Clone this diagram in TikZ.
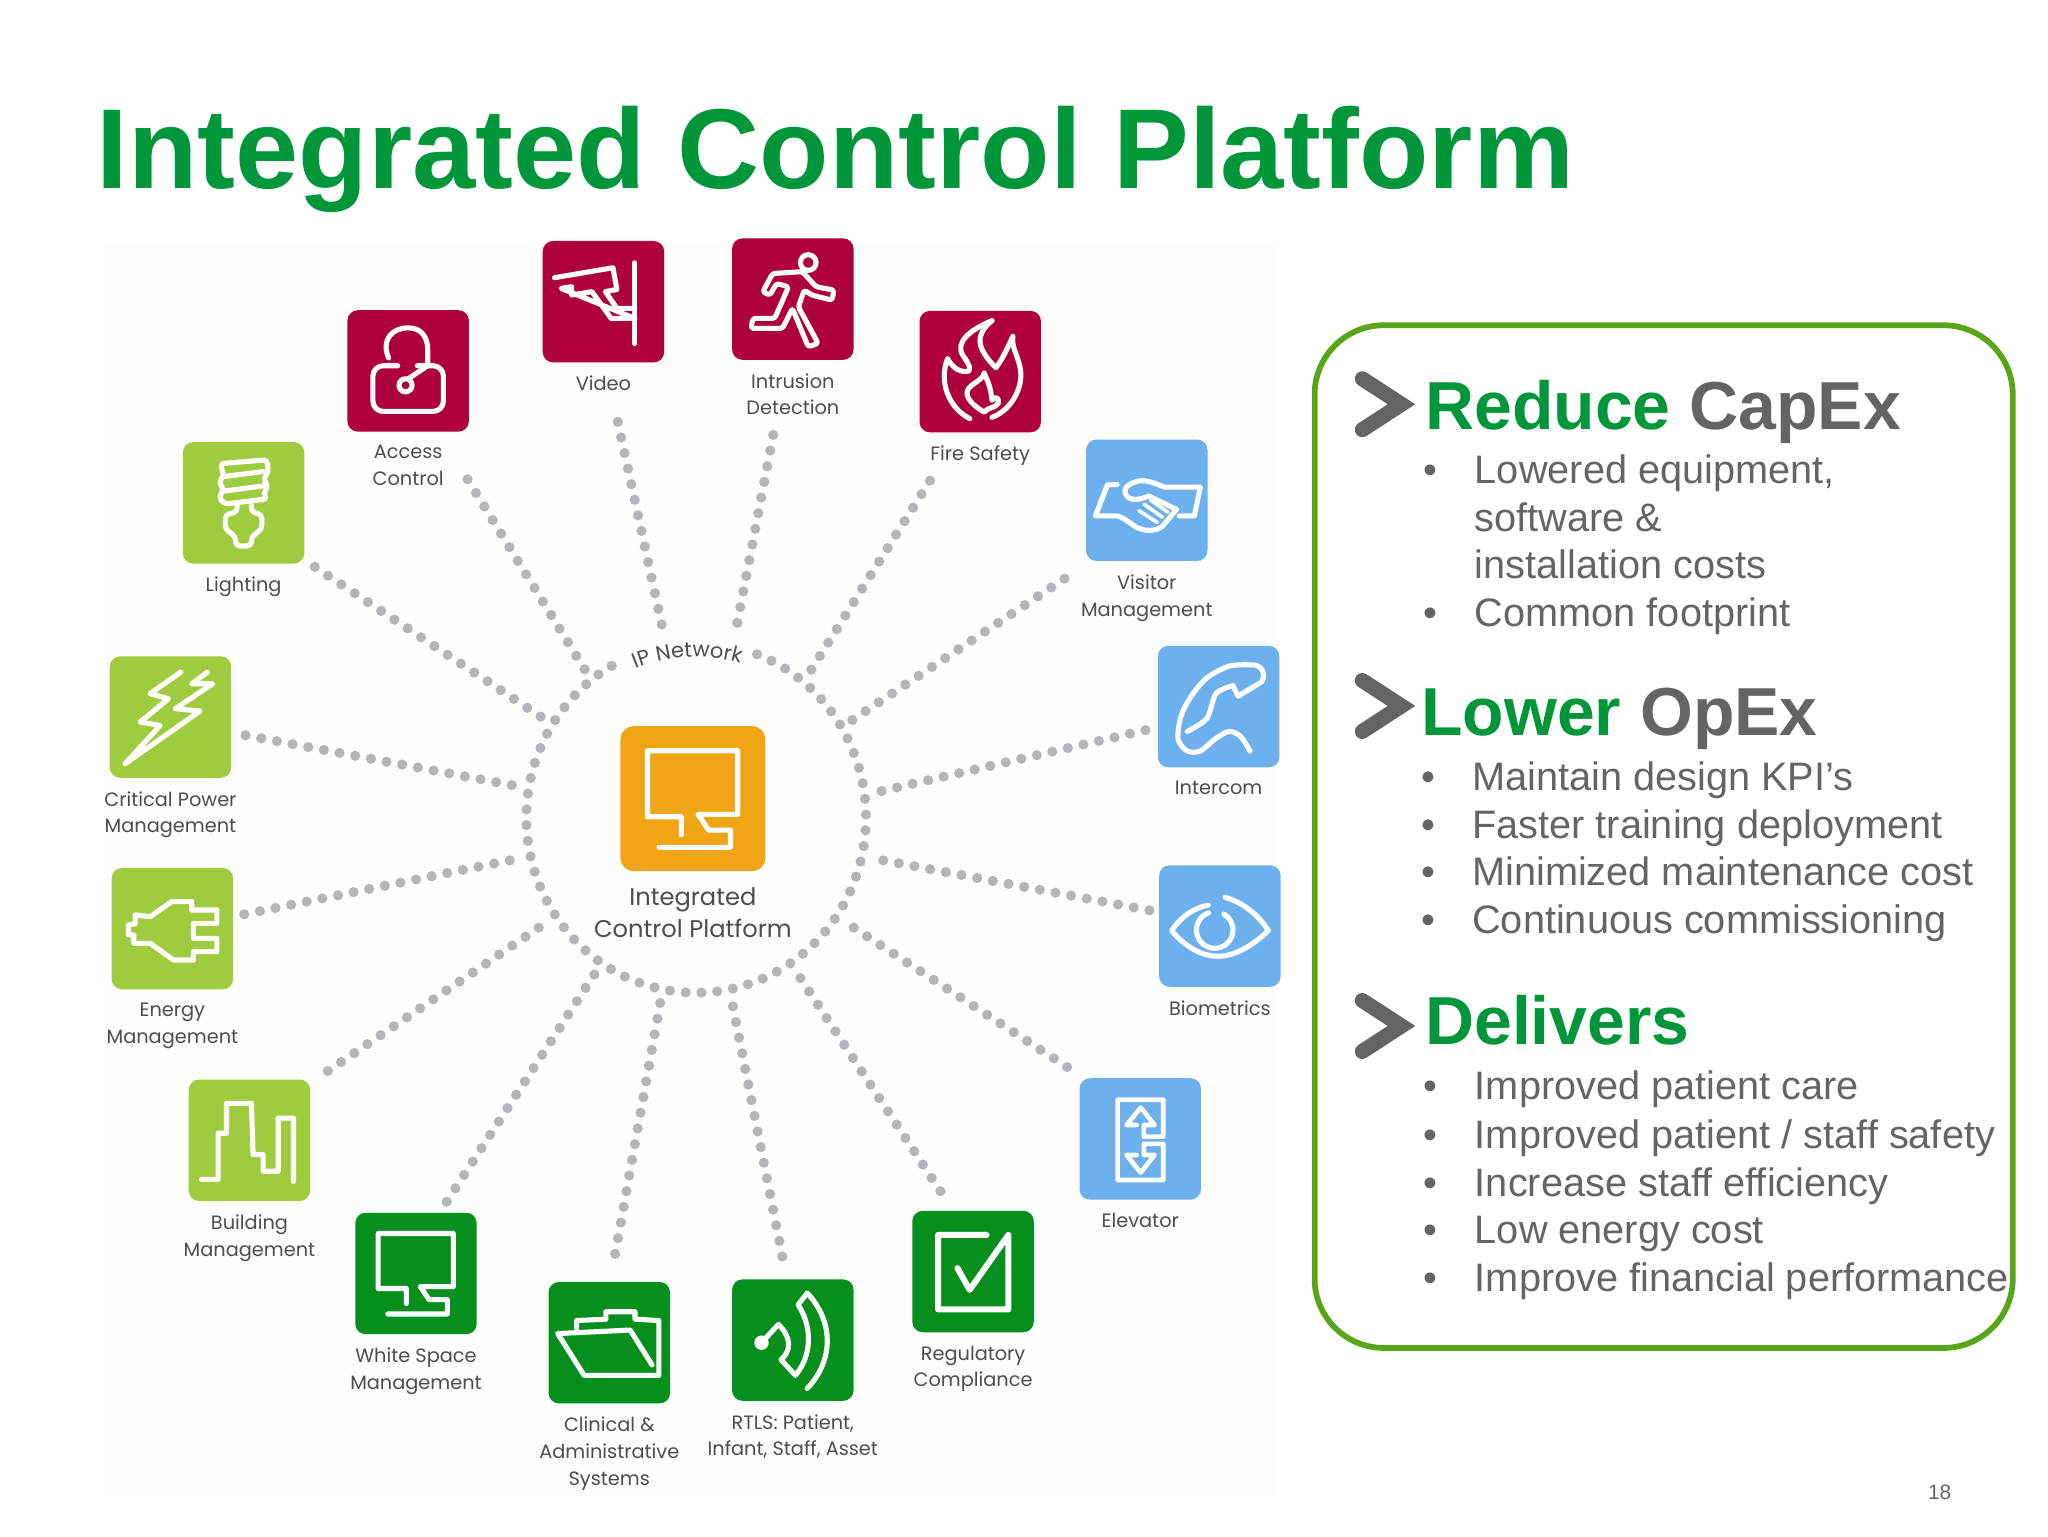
\documentclass[tikz,border=0pt]{standalone}
\usepackage{fontspec}
\setmainfont{Liberation Sans}
\newfontfamily\labelfont{Poppins}
\usetikzlibrary{positioning,shapes.geometric,decorations.text}
\definecolor{titlegreen}{HTML}{009639}
\definecolor{slategray}{HTML}{636466}
\definecolor{labelgray}{HTML}{4C4D4F}
\definecolor{dotgray}{HTML}{B4B4B9}
\definecolor{panelwhite}{HTML}{FDFDFE}
\definecolor{boxgreen}{HTML}{58A618}
\definecolor{crimson}{HTML}{AE003D}
\definecolor{lime}{HTML}{9FCB3F}
\definecolor{skyblue}{HTML}{6CB0EE}
\definecolor{forest}{HTML}{078F1E}
\definecolor{amber}{HTML}{F0A517}
\tikzset{
iconbox/.style={rectangle, rounded corners=8pt, minimum size=93pt, inner sep=0pt},
iconlabel/.style={font=\labelfont\fontsize{14.8}{20.5}\selectfont, text=labelgray, align=center, inner sep=0pt},
iconline/.style={draw=white, line width=3.9pt, line join=round, line cap=round},
spokeline/.style={draw=dotgray, line width=7.8pt, line cap=round, dash pattern=on 0pt off 12.2pt},
headline/.style={font=\bfseries\fontsize{52}{52}\selectfont, anchor=base west, inner sep=0pt},
bulletline/.style={font=\fontsize{30.4}{30.4}\selectfont, text=slategray, anchor=base west, inner sep=0pt},
chevron/.style={draw=slategray, line width=11.5pt, line cap=round, line join=miter}
}
\newcommand{\monitorpath}{(-7.4,23) -- (-7.4,11.5) -- (-29,11.5) -- (-29,-30.6) -- (28.6,-30.6) -- (28.6,10) -- (3.3,10) -- (10,20) -- (24,20) -- (24,31) -- (-21.6,31)}
\begin{document}
\begin{tikzpicture}[x=1pt, y=-1pt]
\useasboundingbox (0,0) rectangle (1568,1176);
\fill[panelwhite] (80,185) rectangle (978,1145);

\node[font=\bfseries\fontsize{87}{87}\selectfont, text=titlegreen, anchor=base west, inner sep=0pt] (title) at (74,144.5) {Integrated Control Platform};

% hub and ring
\node[ellipse, minimum width=276pt, minimum height=284pt, inner sep=0pt] (ring) at (533,626) {};
\draw[spokeline, dash pattern=on 0pt off 12.1pt] (ring.center) ++(-69:130 and 134) arc[start angle=-69, end angle=243, x radius=130, y radius=134];
\path[decorate, decoration={text along path, text align=center, text color=labelgray, text={|\labelfont\fontsize{16}{16}\selectfont|IP Network}}] (ring.center) ++(-120:123) arc[start angle=-120, end angle=-66, radius=123];

\node[iconbox, minimum size=111pt, rounded corners=10pt, fill=amber] (platform) at (530.5,611.5) {};
\node[iconlabel, font=\labelfont\fontsize{18.5}{24.5}\selectfont, below=12pt of platform] (platform-label) {Integrated\\Control Platform};

% icons with their captions
\foreach \iconname/\iconx/\icony/\iconfill/\icontext in {
video/462/231/crimson/{Video},
intrusion/607/229/crimson/{Intrusion\\Detection},
access/312.5/284/crimson/{Access\\Control},
fire/750.5/284.5/crimson/{Fire Safety},
lighting/186.5/385/lime/{Lighting},
visitor/878/383/skyblue/{Visitor\\Management},
critical/130.5/549/lime/{Critical Power\\Management},
intercom/933/541/skyblue/{Intercom},
energy/132/711/lime/{Energy\\Management},
biometrics/934/709/skyblue/{Biometrics},
building/191/873/lime/{Building\\Management},
elevator/873/872/skyblue/{Elevator},
whitespace/318.5/975/forest/{White Space\\Management},
regulatory/745/973.5/forest/{Regulatory\\Compliance},
clinical/466.5/1028/forest/{Clinical \&\\Administrative\\Systems},
rtls/607/1026/forest/{RTLS: Patient,\\Infant, Staff, Asset}}{
\node[iconbox, fill=\iconfill] (\iconname) at (\iconx,\icony) {};
\node[iconlabel, below=10pt of \iconname] (\iconname-label) {\icontext};
}

% dotted spokes into the ring
\foreach \iconname/\offx/\offy/\ringangle in {
access/45.5/83/127.3, fire/-38.5/83.5/52.6, lighting/54.5/49/147.2, visitor/-63/60/32,
critical/57.5/14/170.3, intercom/-56/18/8.4, energy/55/-11/193.9, biometrics/-54/-12/-13.3,
building/60/-53/215.3, elevator/-56/-55/-35.2, whitespace/23.5/-55/237.8, regulatory/-25/-61.5/-57.1,
clinical/4.5/-68/259.4, rtls/-8/-64/-79}{
\draw[spokeline] ([shift={(\offx,\offy)}] \iconname.center) -- (ring.\ringangle);
}
\draw[spokeline, shorten >=8pt] ([shift={(11,92)}] video.center) -- (ring.100.9);
\draw[spokeline, shorten >=8pt] ([shift={(-15,104)}] intrusion.center) -- (ring.78.4);

% icon glyphs
\draw[iconline, shift={(video.center)}] (-37.5,-18.4) -- (7.3,-26) -- (10.3,-9.4) -- (1.5,-7.7) -- (10.3,5.1) -- (24,5.1);
\draw[iconline, shift={(video.center)}] (24,-29.8) -- (24,32);
\draw[iconline, shift={(video.center)}] (24,12.8) -- (5.9,12.8) -- (-8.8,-7.7) -- (-24.3,-5.1) -- (-24.3,-11.5) -- (-32.3,-10.2) -- cycle;

\draw[iconline, rounded corners=8pt, shift={(access.center)}] (-8,-4) -- (-27,-4) -- (-27,31) -- (27,31) -- (27,-4) -- (7,-4);
\draw[iconline, shift={(access.center)}] (-15,-10) .. controls (-21,-24) and (-12,-33) .. (0,-33) .. controls (10,-33) and (15,-26) .. (15,-16) -- (15,-4) -- (0,6);
\draw[iconline, shift={(access.center)}] (-2,11) circle[radius=5];

\draw[iconline, rounded corners=3pt, shift={(lighting.center)}] (-18,-30) -- (18,-33) -- (19,-23) -- (15,-19) -- (19,-12) -- (15,-8) -- (18,-3) -- (-15,1) -- (-19,-5) -- (-15,-10) -- (-19,-16) -- (-15,-21) -- cycle;
\draw[iconline, shift={(lighting.center)}] (-16,-20) -- (15,-24) (-15,-9) -- (15,-13);
\draw[iconline, rounded corners=3pt, shift={(lighting.center)}] (-5,2) -- (-5,7) -- (-14,9) -- (-14,20) -- (-6,26) -- (-6,33) -- (6,33) -- (6,26) -- (14,20) -- (14,9) -- (6,7) -- (6,2);

\draw[iconline, rounded corners=2pt, shift={(intrusion.center)}] (-23,-5.6) -- (-15.5,-19.6) -- (7.3,-21) -- (17.9,-9.4) -- (31.5,-6.9) -- (30,0.8) -- (14.8,-3) -- (8.8,-6.9) -- (4.2,5.9) -- (19.4,33.9) -- (11.8,36.5) -- (-0.3,7.1) -- (-7.9,22.4) -- (-32,22.4) -- (-30.6,14.8) -- (-13.9,14.8) -- (-3.3,-9.4) -- (-12.4,-12) -- (-17.6,-3) -- cycle;
\draw[iconline, shift={(intrusion.center)}] (11.8,-28) circle[radius=6];

\draw[iconline, shift={(fire.center)}] (9,-39) .. controls (-8,-32) and (-20,-22) .. (-13,-12) .. controls (-8,-5) and (-6,0) .. (-11,0) .. controls (-17,0) and (-22,-4) .. (-25,-10) .. controls (-32,8) and (-24,28) .. (-8,36);
\draw[iconline, shift={(fire.center)}] (9,-39) .. controls (-2,-30) and (-2,-22) .. (3,-14) .. controls (6,-9) and (9,-6) .. (12,-3) .. controls (16,-8) and (20,-16) .. (25,-27) .. controls (23,-15) and (36,-5) .. (29,14) .. controls (25,25) and (17,32) .. (9,35);
\draw[iconline, shift={(fire.center)}] (3,1) .. controls (2,8) and (-12,10) .. (-10,18) .. controls (-8,24) and (-2,28) .. (3,31) .. controls (6,27) and (12,28) .. (14,24) .. controls (14,18) and (11,20) .. (9,22) .. controls (8,12) and (6,8) .. (3,1);

\draw[iconline, shift={(visitor.center)}] (-22.7,-12) -- (-30,-12) -- (-39.4,12) -- (-22.7,12) .. controls (-15,14) and (-10,21) .. (-4.5,22) .. controls (2,24) and (8,23) .. (12,20) -- (22.7,7);
\draw[iconline, shift={(visitor.center)}] (25,12) -- (36.4,12) -- (41,-10) -- (13.6,-10) .. controls (6,-13) and (2,-15) .. (-4.5,-15) .. controls (-12,-14) and (-18,-10) .. (-16.7,-6) .. controls (-15,0) and (-8,1) .. (1.5,-3.3) -- (22.7,7);
\draw[iconline, line width=2.8pt, shift={(visitor.center)}] (-6,8) -- (8,17) (-2,3) -- (12,13) (3,0) -- (16,9);

\draw[iconline, shift={(critical.center)}] (7.9,-34.4) -- (-15.6,-17.9) -- (-1.5,-14) -- (-23.2,3.8) -- (-7.9,6.4) -- (-34.7,35.7) -- (22.7,-4.6) -- (3.6,-6.4) -- (32.4,-25.5) -- (16.3,-25.5) -- (28.3,-34.4);

\draw[iconline, shift={(intercom.center)}] plot[smooth] coordinates {(24,34) (17,23) (8,19) (-3,25) (-14,34) (-24,34) (-31,25) (-29,8) (-21,-8) (-9,-22) (8,-31) (24,-32)} .. controls (32,-33) and (37,-26) .. (33,-19) -- (15,-8) -- (11,-16);
\draw[iconline, shift={(intercom.center)}] plot[smooth] coordinates {(11,-16) (-2,-10) (-9,9) (-24,19)};

\draw[iconline, shift={(energy.center)}] (14.8,-20.7) -- (-0.5,-20.7) -- (-17,-9.2) -- (-28.6,-10.5) -- (-28.6,-3.6) -- (-33.7,-2.8) -- (-33.7,4.8) -- (-29.6,4.8) -- (-29.6,11.2) -- (-17,11.2) -- (0.8,24) -- (16,24) -- (16,17.6) -- (34,17.6) -- (34,7.4) -- (16,7.4) -- (16,-4) -- (34,-4) -- (34,-14.3) -- (14.8,-14.3) -- cycle;

\draw[iconline, shift={(biometrics.center)}] (37,3.5) .. controls (20,20) and (5,24) .. (-4,23) .. controls (-18,22) and (-30,12) .. (-37,3.5) .. controls (-30,-7) and (-20,-14) .. (-9,-16);
\draw[iconline, shift={(biometrics.center)}] (4,-22) .. controls (18,-18) and (30,-8) .. (37,3.5);
\draw[iconline, shift={(biometrics.center)}] (-4,3) ++(-110:14) arc[start angle=-110, end angle=-420, radius=14];

\draw[iconline, shift={(building.center)}] (-36.7,30) -- (-24,30) -- (-24,-5.4) -- (-17.6,-5.4) -- (-17.6,-28.3) -- (1.5,-28.3) -- (2.8,11) -- (10.5,11) -- (10.5,23.7) -- (22,23.7) -- (22,-17) -- (33.7,-17) -- (33.7,31.6);

\draw[iconline, line width=3.5pt, shift={(elevator.center)}] (-2.8,-10.7) -- (-10.5,-10.7) -- (0.3,-24) -- (11,-10.7) -- (2.8,-10.7) -- (2.8,-1.8) -- (17.6,-1.8) -- (17.6,-30) -- (-17.3,-30) -- (-17.3,31.4) -- (17.6,31.4) -- (17.6,3.8) -- (2.8,3.8) -- (2.8,12.3) -- (11,12.3) -- (0.3,25.8) -- (-10.5,12.3) -- (-2.8,12.3);

\draw[iconline, shift={(whitespace.center)}] \monitorpath;
\draw[iconline, shift={(platform.center)}, scale=1.2] \monitorpath;

\draw[iconline, line width=4.6pt, shift={(regulatory.center)}] (10.4,-28) -- (-26.8,-28) -- (-26.8,29) -- (27,29) -- (27,-28) -- (-2.6,14) -- (-12,-2.6);

\draw[iconline, shift={(clinical.center)}] (-25,-11) -- (-25,-17) -- (-2.6,-18) -- (-2.6,-23.7) -- (19.7,-23.7) -- (19.7,-18) -- (38,-17) -- (38,25) -- (-19.3,25) -- (-39.5,-7) -- (16,-9.7) -- (32.7,17);

\draw[iconline, shift={(rtls.center)}] (-24,2) -- (-11,-12) .. controls (-1,-2) and (-1,8) .. (-9,15) -- (2,27) .. controls (16,10) and (14,-12) .. (4,-27) -- (11,-36) .. controls (31,-15) and (32,15) .. (11,37);
\fill[white, shift={(rtls.center)}] (-24,2) circle[radius=5.5];

% right hand panel
\draw[boxgreen, line width=4.4pt, rounded corners=53pt] (1006.5,249) rectangle (1541,1032);

\draw[chevron] (1043,290) -- (1073,309.5) -- (1043,329);
\draw[chevron] (1043,521) -- (1073,540.5) -- (1043,560);
\draw[chevron] (1043,766) -- (1073,785.5) -- (1043,805);

\node[headline] (capex) at (1091,329) {\textcolor{titlegreen}{Reduce} \textcolor{slategray}{CapEx}};
\node[headline] (opex) at (1088,563) {\textcolor{titlegreen}{Lower} \textcolor{slategray}{OpEx}};
\node[headline, text=titlegreen] (delivers) at (1091,800) {Delivers};

\foreach \liney/\linetext in {
370/{Lowered equipment,}, 407/{software \&}, 443/{installation costs}, 480/{Common footprint},
842/{Improved patient care}, 879/{Improved patient / staff safety}, 916/{Increase staff efficiency}, 952/{Low energy cost}, 989/{Improve financial performance}}{
\node[bulletline] (line\liney) at (1129,\liney) {\linetext};
}
\foreach \liney/\linetext in {
605/{Maintain design KPI’s}, 642/{Faster training deployment}, 678/{Minimized maintenance cost}, 715/{Continuous commissioning}}{
\node[bulletline] (line\liney) at (1127,\liney) {\linetext};
\node[bulletline] (dot\liney) at (1088,\liney) {•};
}
\foreach \liney in {370,480,842,879,916,952,989}{
\node[bulletline] (dot\liney) at (1090,\liney) {•};
}

\node[font=\fontsize{16}{16}\selectfont, text=slategray, anchor=base west, inner sep=0pt] (pagenum) at (1476,1148) {18};
\end{tikzpicture}
\end{document}
